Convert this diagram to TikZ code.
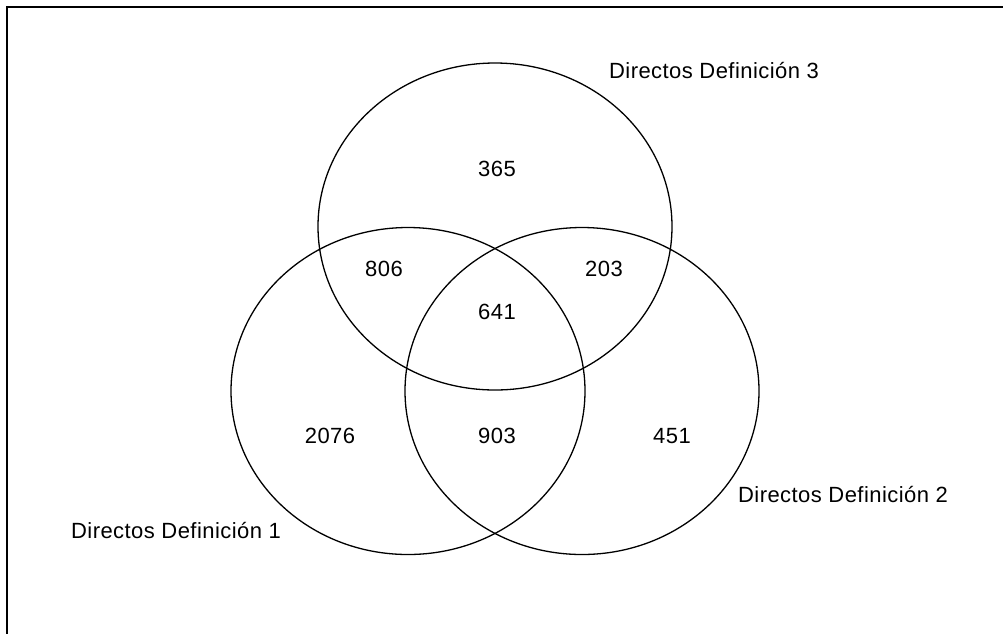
\documentclass[tikz,border=0pt]{standalone}
\usetikzlibrary{shapes.geometric}
\usepackage{fontspec}
\setmainfont{Liberation Sans}[LetterSpace=2]
\begin{document}
\begin{tikzpicture}[x=1pt,y=-1pt,
  setc/.style={draw=black,line width=1.3pt,ellipse,minimum width=354pt,minimum height=327pt,inner sep=0pt},
  lbl/.style={font=\fontsize{22}{26}\selectfont,inner sep=0pt,anchor=center}]
\useasboundingbox (0,0) rectangle (1003,633);
\begin{scope}
\clip (0,0) rectangle (1003,633);
\draw[line width=2.8pt] (7,640) -- (7,7) -- (1010,7);
\end{scope}
\node[setc] (c3) at (495,226.5) {};
\node[setc] (c1) at (408,391) {};
\node[setc] (c2) at (582,391) {};
\node[lbl] (t3) at (714,71) {Directos Definición 3};
\node[lbl] (t1) at (176,530) {Directos Definición 1};
\node[lbl] (t2) at (843,494) {Directos Definición 2};
\node[lbl] (n365) at (497,169) {365};
\node[lbl] (n806) at (384,269) {806};
\node[lbl] (n203) at (604,269) {203};
\node[lbl] (n641) at (497,312) {641};
\node[lbl] (n2076) at (330,436) {2076};
\node[lbl] (n903) at (497,436) {903};
\node[lbl] (n451) at (672,436) {451};
\end{tikzpicture}
\end{document}
